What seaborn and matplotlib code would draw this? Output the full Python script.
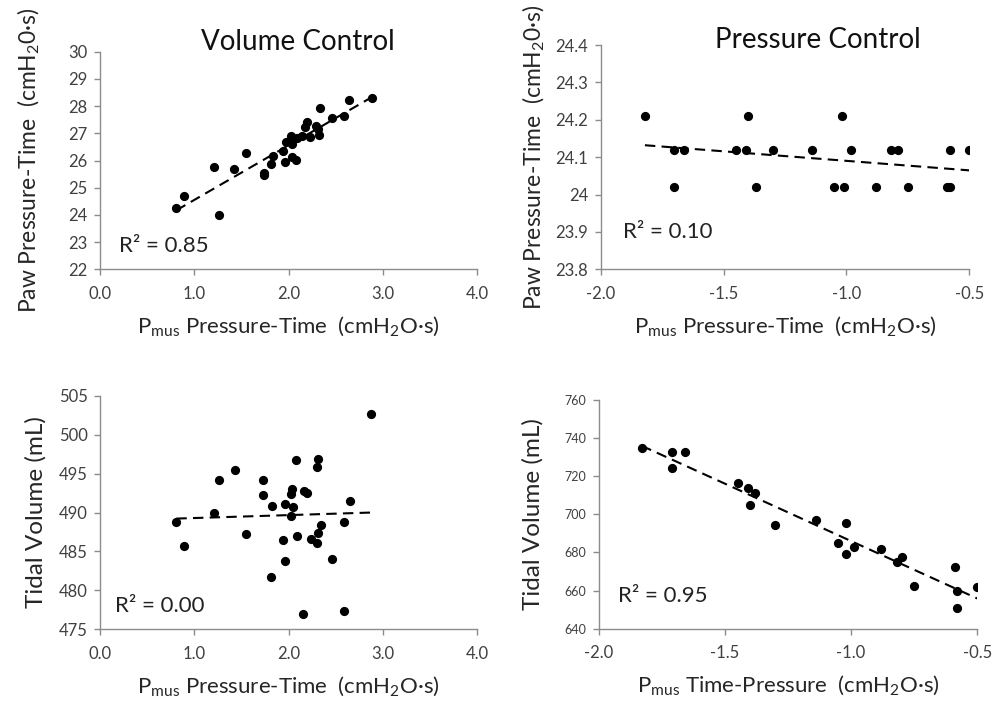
import matplotlib
matplotlib.use("Agg")
import matplotlib.pyplot as plt
import seaborn as sns

# Volume control: Pmus pressure-time vs Paw pressure-time
vc_pmus_a = [0.81, 0.89, 1.21, 1.26, 1.42, 1.55, 1.74, 1.74, 1.81, 1.84, 1.94, 1.96, 1.97, 2.03, 2.04,
             2.04, 2.08, 2.09, 2.14, 2.17, 2.20, 2.23, 2.29, 2.31, 2.32, 2.33, 2.46, 2.59, 2.64, 2.89]
vc_paw = [24.27, 24.68, 25.77, 24.01, 25.69, 26.26, 25.55, 25.47, 25.86, 26.18, 26.36, 25.93, 26.67, 26.90, 26.61,
          26.12, 26.03, 26.82, 26.90, 27.24, 27.40, 26.88, 27.28, 27.16, 26.95, 27.93, 27.57, 27.62, 28.24, 28.29]

# Volume control: Pmus pressure-time vs tidal volume
vc_pmus_b = [0.81, 0.89, 1.21, 1.26, 1.43, 1.55, 1.73, 1.73, 1.81, 1.83, 1.94, 1.96, 1.96, 2.03, 2.04, 2.03, 2.05,
             2.08, 2.09, 2.15, 2.16, 2.20, 2.24, 2.30, 2.30, 2.31, 2.31, 2.34, 2.46, 2.59, 2.59, 2.65, 2.88]
vc_vt = [488.8, 485.7, 489.9, 494.2, 495.4, 487.2, 494.2, 492.2, 481.7, 490.8, 486.5, 491.1, 483.8, 489.6, 493.0, 492.4,
         490.7, 496.8, 487.0, 477.0, 492.7, 492.5, 486.6, 495.9, 486.1, 496.9, 487.4, 488.4, 484.0, 488.8, 477.4, 491.5, 502.7]

# Pressure control: Pmus pressure-time vs Paw pressure-time
pc_pmus_a = [-1.82, -1.70, -1.70, -1.66, -1.45, -1.41, -1.40, -1.37, -1.30, -1.14, -1.05,
             -1.02, -1.01, -0.98, -0.88, -0.82, -0.79, -0.75, -0.59, -0.58, -0.58, -0.50]
pc_paw = [24.21, 24.12, 24.02, 24.12, 24.12, 24.12, 24.21, 24.02, 24.12, 24.12, 24.02,
          24.21, 24.02, 24.12, 24.02, 24.12, 24.12, 24.02, 24.02, 24.02, 24.12, 24.12]

# Pressure control: Pmus time-pressure vs tidal volume
pc_pmus_b = [-1.83, -1.71, -1.71, -1.66, -1.45, -1.41, -1.40, -1.38, -1.30, -1.14, -1.05,
             -1.02, -1.02, -0.99, -0.88, -0.82, -0.80, -0.75, -0.59, -0.58, -0.58, -0.50]
pc_vt = [734.6, 732.7, 724.3, 732.7, 716.3, 714.0, 704.9, 711.2, 694.4, 696.9, 685.0,
         695.6, 679.2, 683.0, 681.8, 675.0, 677.4, 662.2, 672.4, 660.0, 651.0, 661.7]

vc_xticks = [0.0, 1.0, 2.0, 3.0, 4.0]
pc_xticks = [-2.0, -1.5, -1.0, -0.5]
paw_vc_yticks = [22, 23, 24, 25, 26, 27, 28, 29, 30]
paw_pc_yticks = [23.8, 23.9, 24.0, 24.1, 24.2, 24.3, 24.4]
paw_pc_ylabels = ["23.8", "23.9", "24", "24.1", "24.2", "24.3", "24.4"]
vt_vc_yticks = [475, 480, 485, 490, 495, 500, 505]
vt_pc_yticks = [640, 660, 680, 700, 720, 740, 760]

r2_texts = ["R² = 0.85", "R² = 0.10", "R² = 0.00", "R² = 0.95"]

sns.set_style("ticks")
plt.rcParams['font.family'] = ['Lato', 'DejaVu Sans']
plt.rcParams['mathtext.fontset'] = 'custom'
plt.rcParams['mathtext.rm'] = 'Lato'
plt.rcParams['mathtext.it'] = 'Lato:italic'
plt.rcParams['axes.unicode_minus'] = False

fig = plt.figure(figsize=(9.92, 7.01), dpi=100)

W, H = 992, 701
def add_ax(left, right, top, bottom):
    return fig.add_axes([left / W, 1 - bottom / H, (right - left) / W, (bottom - top) / H])

ax1 = add_ax(100, 477, 51.7, 269.3)
ax2 = add_ax(600.7, 969.3, 45, 269.3)
ax3 = add_ax(100, 477, 395.7, 629.3)
ax4 = add_ax(598.7, 977.3, 400, 628.7)

xlab_pt = r'P$_{\mathrm{mus}}$ Pressure-Time  (cmH$_2$O·s)'
xlab_tp = r'P$_{\mathrm{mus}}$ Time-Pressure  (cmH$_2$O·s)'
ylab_paw = r'Paw Pressure-Time  (cmH$_2$0·s)'
ylab_vt = 'Tidal Volume (mL)'

# ax, x, y, xticks, yticks, ylabels, xlabel, ylabel, r2 pos, ytick size, ylabel pad, ylabel size
panels = [
    (ax1, vc_pmus_a, vc_paw, vc_xticks, paw_vc_yticks, None, xlab_pt, ylab_paw, (0.05, 0.107), 12, 19, 16.5),
    (ax2, pc_pmus_a, pc_paw, pc_xticks, paw_pc_yticks, paw_pc_ylabels, xlab_pt, ylab_paw, (0.06, 0.166), 12, 6, 16.5),
    (ax3, vc_pmus_b, vc_vt, vc_xticks, vt_vc_yticks, None, xlab_pt, ylab_vt, (0.04, 0.10), 12, 9, 17.5),
    (ax4, pc_pmus_b, pc_vt, pc_xticks, vt_pc_yticks, None, xlab_tp, ylab_vt, (0.052, 0.144), 9, 15, 17.5),
]

for i, (ax, x, y, xt, yt, ylabels, xl, yl, r2pos, yfs, ypad, ylfs) in enumerate(panels):
    sns.regplot(x=x, y=y, ax=ax, ci=None, truncate=True,
                scatter_kws=dict(s=44, color='black', linewidths=0, alpha=1),
                line_kws=dict(color='black', lw=1.5, dashes=(5, 3)))
    ax.set_xlim(xt[0], xt[-1])
    ax.set_ylim(yt[0], yt[-1])
    ax.set_xticks(xt)
    ax.set_xticklabels([f"{v:.1f}" for v in xt])
    ax.set_yticks(yt)
    ax.set_yticklabels(ylabels if ylabels else [str(v) for v in yt])
    ax.tick_params(axis='x', labelsize=12, colors='#8c8c8c', labelcolor='#404040', length=4, width=1, pad=8)
    ax.tick_params(axis='y', labelsize=yfs, colors='#8c8c8c', labelcolor='#404040', length=4, width=1, pad=5)
    for s in ['left', 'bottom']:
        ax.spines[s].set_color('#8c8c8c')
        ax.spines[s].set_linewidth(1)
    sns.despine(ax=ax)
    ax.set_xlabel(xl, fontsize=16, labelpad=9)
    ax.set_ylabel(yl, fontsize=ylfs, labelpad=ypad)
    ax.text(r2pos[0], r2pos[1], r2_texts[i], transform=ax.transAxes, fontsize=16,
            va='center', ha='left', color='#222222')

fig.text(298 / W, 1 - 42 / H, 'Volume Control', fontsize=20, ha='center', va='center', color='#111111')
fig.text(818 / W, 1 - 40 / H, 'Pressure Control', fontsize=20, ha='center', va='center', color='#111111')

fig.savefig('out.png', dpi=100)
